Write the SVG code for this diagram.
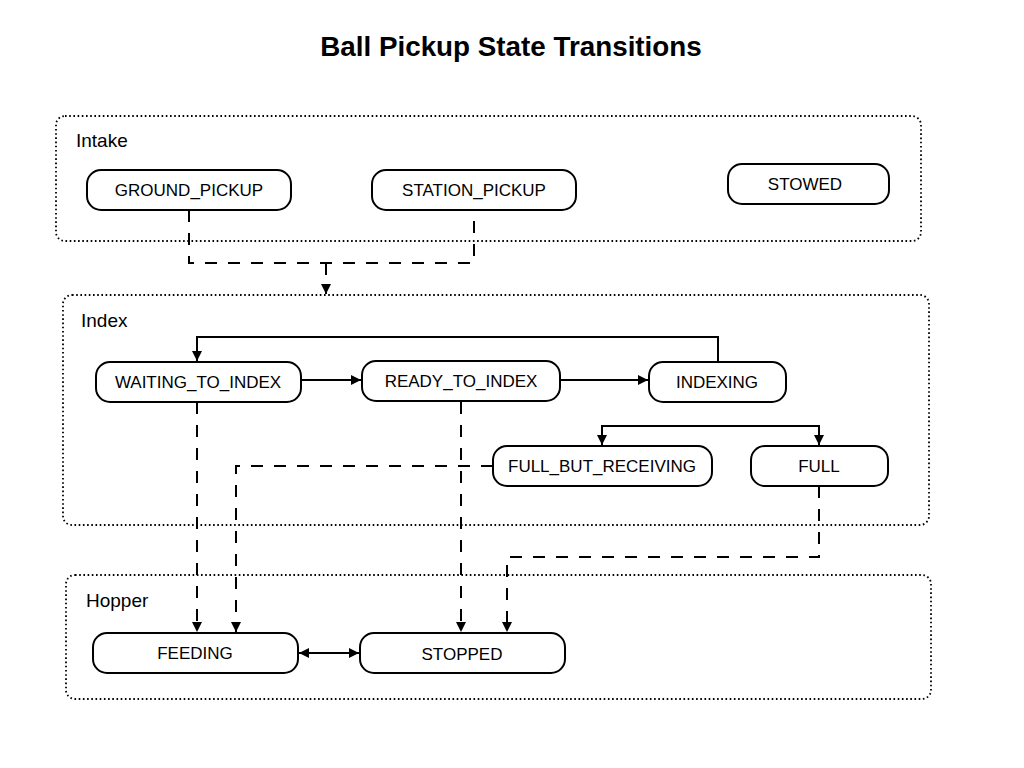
<svg xmlns="http://www.w3.org/2000/svg" width="1024" height="768" viewBox="0 0 1024 768">
<style>
.bg{fill:#fff}
.grp{fill:none;stroke:#000;stroke-width:1.8;stroke-dasharray:1.6 2.6}
.node rect{fill:#fff;stroke:#000;stroke-width:2}
.node text{font-family:"Liberation Sans",Arial,sans-serif;font-size:17px;fill:#000;text-anchor:middle}
.glabel{font-family:"Liberation Sans",Arial,sans-serif;font-size:19px;fill:#000}
.title{font-family:"Liberation Sans",Arial,sans-serif;font-size:27.8px;font-weight:bold;fill:#000;text-anchor:middle}
.solid{fill:none;stroke:#000;stroke-width:2}
.dash{fill:none;stroke:#000;stroke-width:2;stroke-dasharray:12 11}
</style>
<defs>
<marker id="arr" viewBox="0 0 10 10" refX="10" refY="5" markerWidth="10" markerHeight="10" markerUnits="userSpaceOnUse" orient="auto-start-reverse">
<path d="M0,0 L10,5 L0,10 z" fill="#000"/>
</marker>
</defs>
<rect class="bg" x="0" y="0" width="1024" height="768"/>
<text class="title" x="511" y="56">Ball Pickup State Transitions</text>

<g id="group-intake">
<rect class="grp" x="56" y="116" width="865" height="125" rx="9"/>
<text class="glabel" x="76" y="147">Intake</text>
</g>
<g id="group-index">
<rect class="grp" x="63" y="295" width="866" height="230" rx="9"/>
<text class="glabel" x="81" y="327">Index</text>
</g>
<g id="group-hopper">
<rect class="grp" x="66" y="575" width="865" height="124" rx="9"/>
<text class="glabel" x="86" y="607">Hopper</text>
</g>

<g id="connectors">
<path class="dash" d="M189,210 V263 H474 V210"/>
<path class="dash" d="M326,263 V294" marker-end="url(#arr)"/>
<path class="solid" d="M718,362 V337 H197 V361" marker-end="url(#arr)"/>
<path class="solid" d="M301,380 H361" marker-end="url(#arr)"/>
<path class="solid" d="M560,380 H648" marker-end="url(#arr)"/>
<path class="solid" d="M602,445 V426 H819 V445" marker-start="url(#arr)" marker-end="url(#arr)"/>
<path class="dash" d="M197,402 V632" marker-end="url(#arr)"/>
<path class="dash" d="M493,466 H236 V632" marker-end="url(#arr)"/>
<path class="dash" d="M461,402 V632" marker-end="url(#arr)"/>
<path class="dash" d="M819,486 V557 H507 V632" marker-end="url(#arr)"/>
<path class="solid" d="M299,653 H359" marker-start="url(#arr)" marker-end="url(#arr)"/>
</g>

<g id="node-ground-pickup" class="node">
<rect x="87" y="170" width="204" height="40" rx="14"/>
<text x="189" y="196">GROUND_PICKUP</text>
</g>
<g id="node-station-pickup" class="node">
<rect x="372" y="170" width="204" height="40" rx="14"/>
<text x="474" y="196">STATION_PICKUP</text>
</g>
<g id="node-stowed" class="node">
<rect x="728" y="164" width="161" height="40" rx="14"/>
<text x="805" y="190">STOWED</text>
</g>
<g id="node-waiting-to-index" class="node">
<rect x="96" y="362" width="205" height="40" rx="14"/>
<text x="198" y="388">WAITING_TO_INDEX</text>
</g>
<g id="node-ready-to-index" class="node">
<rect x="362" y="361" width="198" height="40" rx="14"/>
<text x="461" y="387">READY_TO_INDEX</text>
</g>
<g id="node-indexing" class="node">
<rect x="649" y="362" width="137" height="40" rx="14"/>
<text x="717" y="388">INDEXING</text>
</g>
<g id="node-full-but-receiving" class="node">
<rect x="493" y="446" width="219" height="40" rx="14"/>
<text x="602" y="472">FULL_BUT_RECEIVING</text>
</g>
<g id="node-full" class="node">
<rect x="751" y="446" width="137" height="40" rx="14"/>
<text x="819" y="472">FULL</text>
</g>
<g id="node-feeding" class="node">
<rect x="93" y="633" width="205" height="40" rx="14"/>
<text x="195" y="659">FEEDING</text>
</g>
<g id="node-stopped" class="node">
<rect x="360" y="633" width="205" height="40" rx="14"/>
<text x="462" y="660">STOPPED</text>
</g>
</svg>
